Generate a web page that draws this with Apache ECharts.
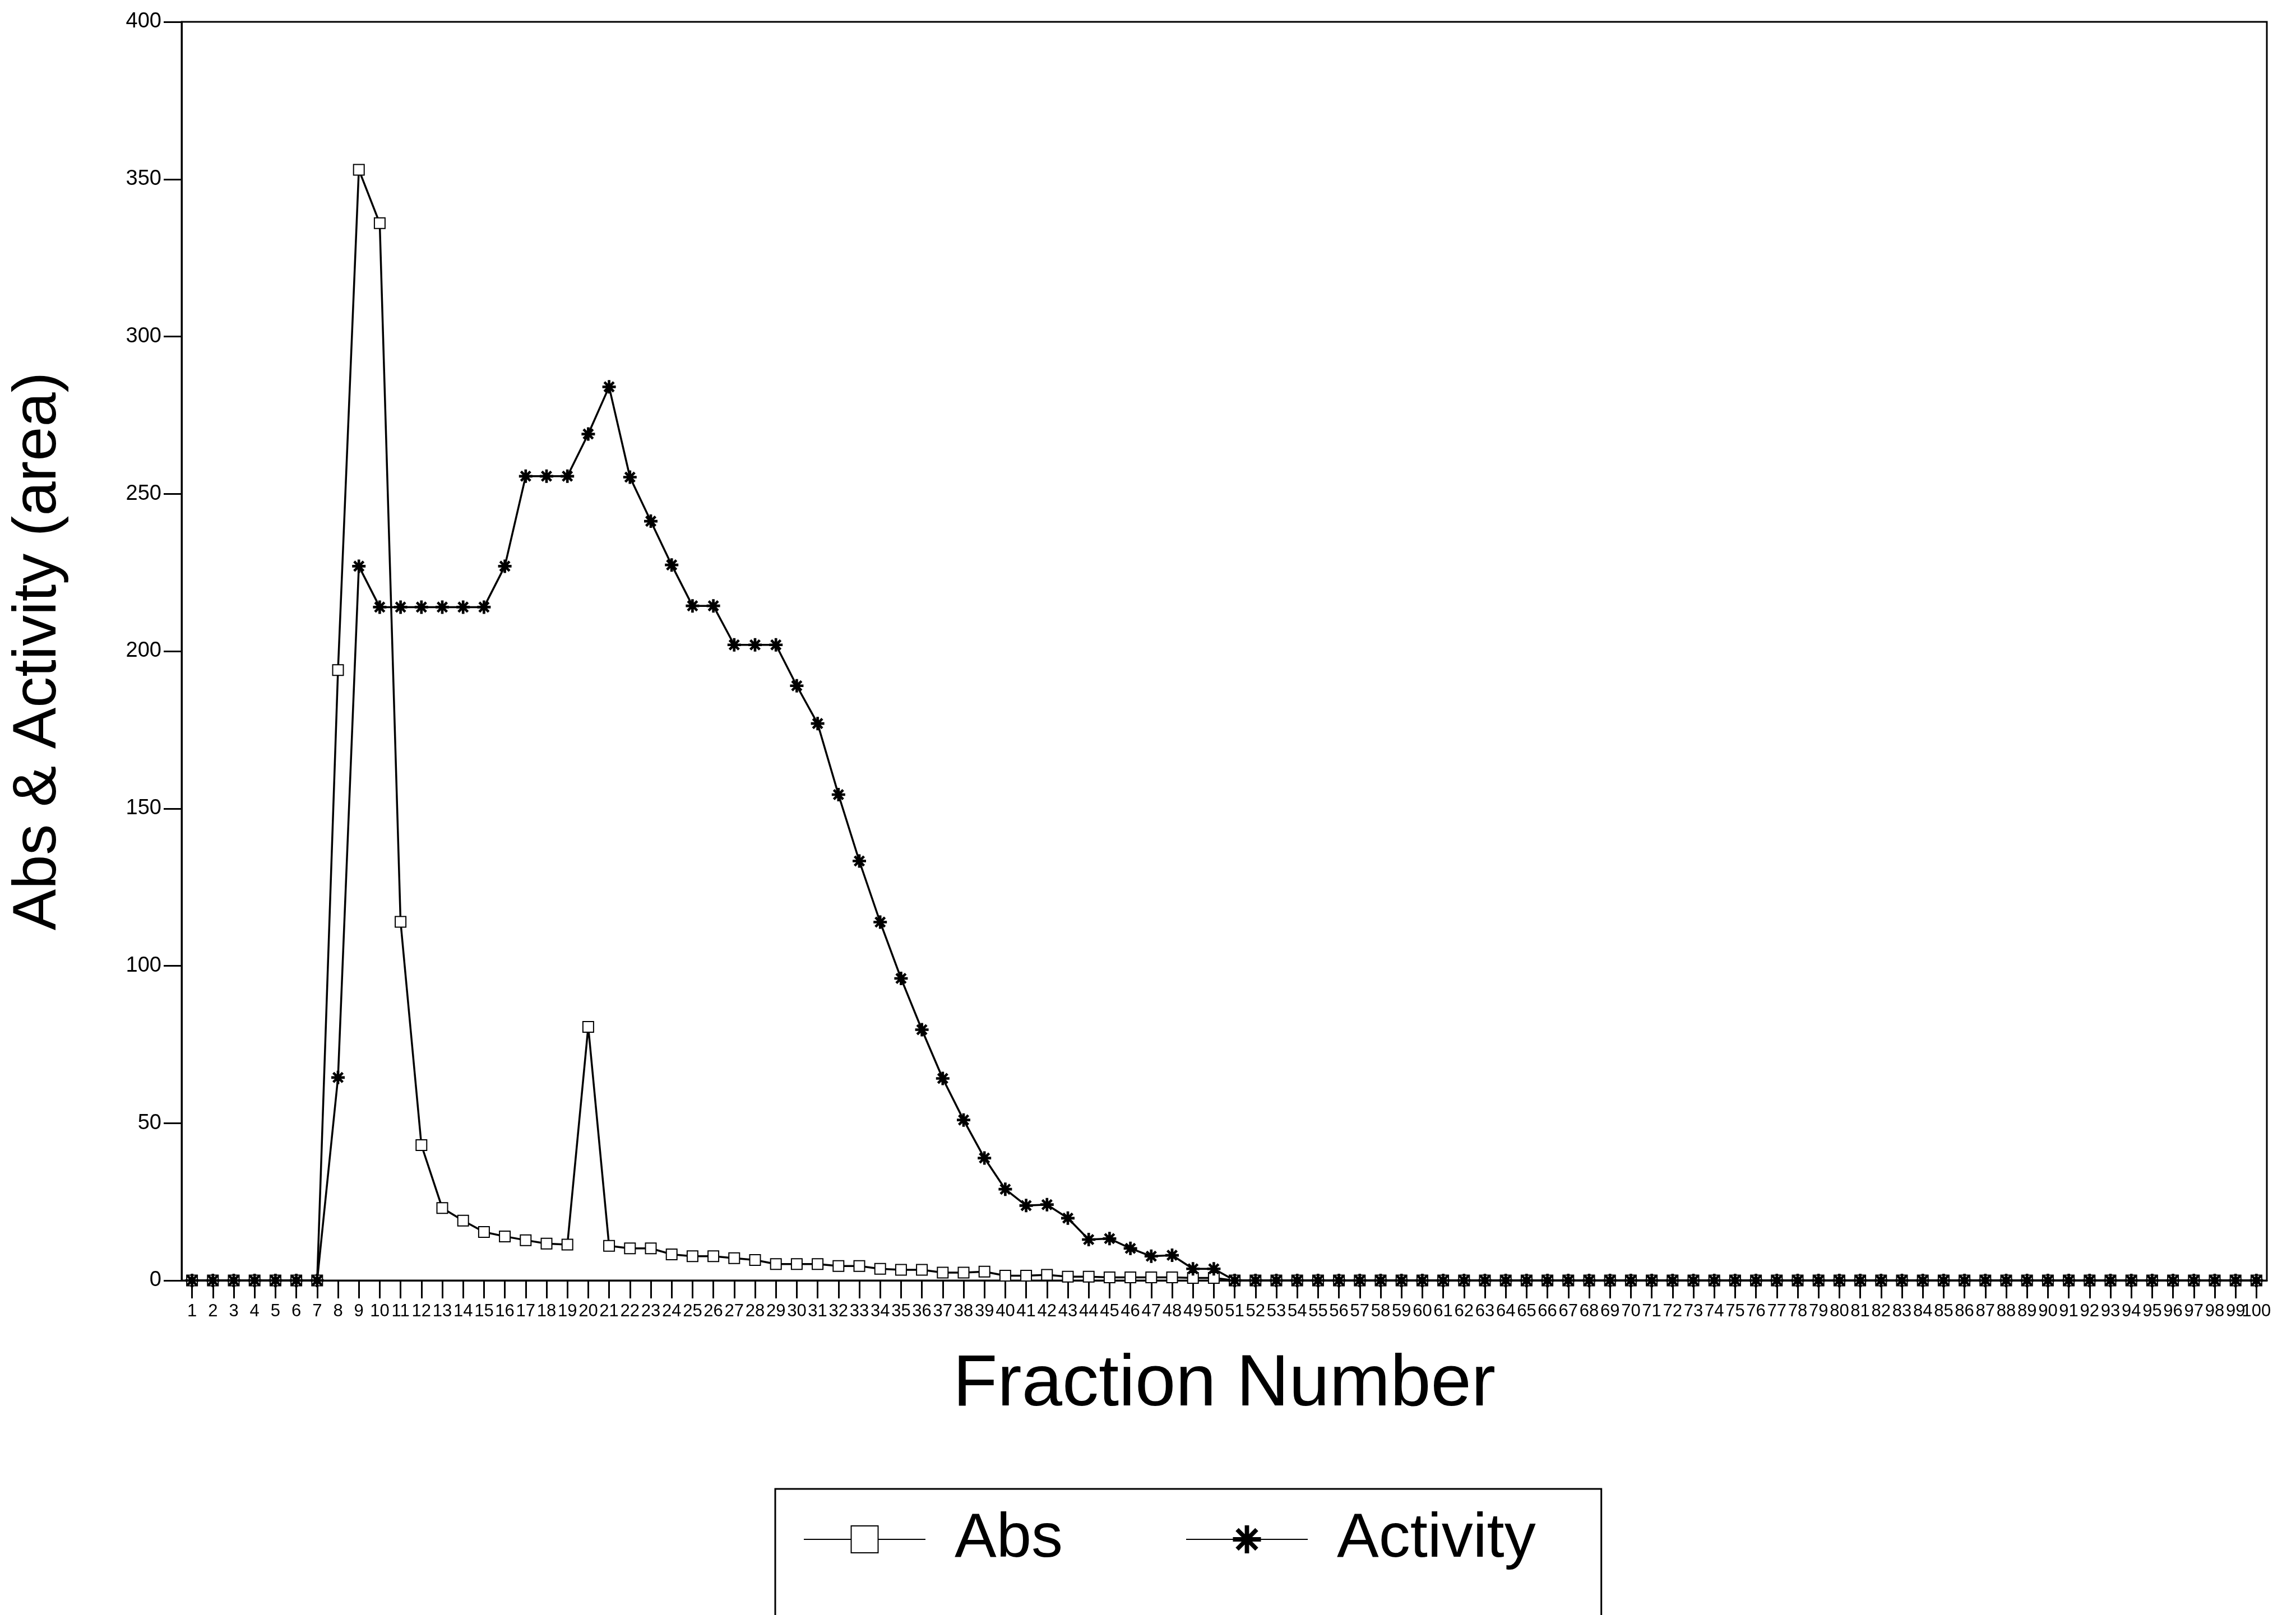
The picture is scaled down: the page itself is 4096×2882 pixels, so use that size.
<!DOCTYPE html>
<html><head><meta charset="utf-8">
<script src="https://cdn.jsdelivr.net/npm/echarts@6/dist/echarts.min.js"></script>
<style>html,body{margin:0;padding:0;background:#fff}#c{width:4096px;height:2882px}</style>
</head><body><div id="c"></div>
<script>
const fractions = ['1','2','3','4','5','6','7','8','9','10','11','12','13','14','15','16','17','18','19','20',
'21','22','23','24','25','26','27','28','29','30','31','32','33','34','35','36','37','38','39','40',
'41','42','43','44','45','46','47','48','49','50','51','52','53','54','55','56','57','58','59','60',
'61','62','63','64','65','66','67','68','69','70','71','72','73','74','75','76','77','78','79','80',
'81','82','83','84','85','86','87','88','89','90','91','92','93','94','95','96','97','98','99','100'];

const absValues = [0,0,0,0,0,0,0,194,353,336,114,43,23,19,15.4,14,12.8,11.7,11.4,80.6,
11,10.2,10.2,8.3,7.7,7.7,7.1,6.5,5.2,5.2,5.2,4.6,4.6,3.7,3.4,3.4,2.5,2.5,2.8,1.5,
1.5,1.8,1.2,1.2,1,1,1,1,0.8,0.8,0,0,0,0,0,0,0,0,0,0,
0,0,0,0,0,0,0,0,0,0,0,0,0,0,0,0,0,0,0,0,
0,0,0,0,0,0,0,0,0,0,0,0,0,0,0,0,0,0,0,0];

const activityValues = [0,0,0,0,0,0,0,64.5,227,214,214,214,214,214,214,227,255.6,255.6,255.6,269,
284,255.3,241.3,227.4,214.4,214.4,202,202,202,189,177,154.4,133.3,113.9,96,79.7,64.2,51,38.9,29,
23.8,24.1,19.8,13,13.3,10.2,7.7,8,3.7,3.7,0,0,0,0,0,0,0,0,0,0,
0,0,0,0,0,0,0,0,0,0,0,0,0,0,0,0,0,0,0,0,
0,0,0,0,0,0,0,0,0,0,0,0,0,0,0,0,0,0,0,0];

const yMin = 0, yMax = 400, yStep = 50;
const seriesNames = ['Abs', 'Activity'];

const asterisk = 'path://M44 0L56 0L56 100L44 100Z M0 44L100 44L100 56L0 56Z M10.8 19.2L19.2 10.8L89.2 80.8L80.8 89.2Z M80.8 10.8L89.2 19.2L19.2 89.2L10.8 80.8Z';
const sans = '"Liberation Sans", Arial, sans-serif';
const narrow = '"Liberation Sans Narrow", "Liberation Sans", Arial, sans-serif';

const chart = echarts.init(document.getElementById('c'), null, {renderer: 'canvas'});
chart.setOption({
  animation: false,
  backgroundColor: '#fff',
  grid: {left: 324, right: 52, top: 39, bottom: 597, show: true, borderColor: '#000', borderWidth: 3, backgroundColor: 'transparent'},
  legend: {
    data: seriesNames,
    left: 1383, top: 2657,
    orient: 'horizontal',
    padding: [34, 117, 300, 50],
    borderColor: '#000', borderWidth: 3,
    itemWidth: 217, itemHeight: 60, itemGap: 219,
    textStyle: {fontSize: 112, fontFamily: narrow, color: '#000', padding: [0, 0, 0, 47]}
  },
  xAxis: {
    type: 'category',
    data: fractions,
    boundaryGap: true,
    name: 'Fraction Number',
    nameLocation: 'middle',
    nameGap: 122,
    nameTextStyle: {fontSize: 130, fontFamily: sans, color: '#000'},
    axisLine: {lineStyle: {color: '#000', width: 3}},
    axisTick: {show: true, alignWithLabel: true, interval: 0, length: 32, lineStyle: {color: '#000', width: 3}},
    axisLabel: {interval: 0, fontSize: 31, fontFamily: narrow, color: '#000', margin: 40, hideOverlap: false},
    splitLine: {show: false}
  },
  yAxis: {
    type: 'value',
    min: yMin, max: yMax, interval: yStep,
    name: 'Abs & Activity (area)',
    nameLocation: 'middle',
    nameGap: 200,
    nameTextStyle: {fontSize: 110, fontFamily: sans, color: '#000'},
    axisLine: {show: true, lineStyle: {color: '#000', width: 3}},
    axisTick: {show: true, length: 32, lineStyle: {color: '#000', width: 3}},
    axisLabel: {fontSize: 38, fontFamily: sans, color: '#000', margin: 36},
    splitLine: {show: false}
  },
  series: [
    {
      name: seriesNames[0], type: 'line', data: absValues,
      symbol: 'emptyRect', symbolSize: 19, showAllSymbol: true,
      lineStyle: {color: '#000', width: 3.5},
      itemStyle: {color: '#000', borderColor: '#000', borderWidth: 3}
    },
    {
      name: seriesNames[1], type: 'line', data: activityValues,
      symbol: asterisk, symbolSize: 22, showAllSymbol: true,
      lineStyle: {color: '#000', width: 3.5},
      itemStyle: {color: '#000', borderColor: '#000', borderWidth: 2}
    }
  ]
});
</script></body></html>
